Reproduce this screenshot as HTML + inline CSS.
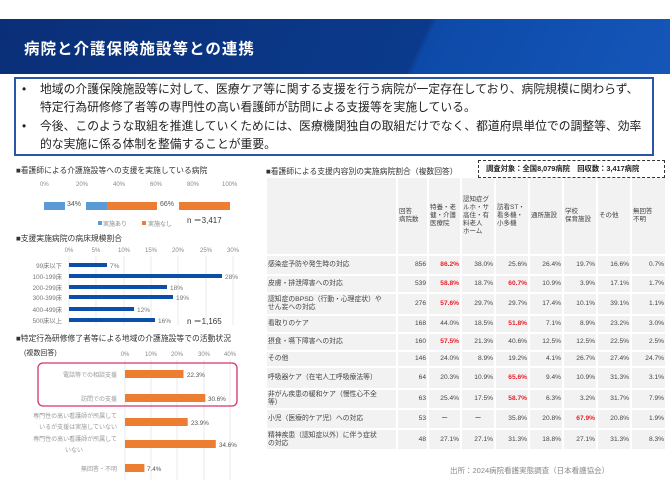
<!DOCTYPE html>
<html><head><meta charset="utf-8"><style>
*{margin:0;padding:0;box-sizing:border-box}
body{width:670px;height:502px;background:#fff;position:relative;overflow:hidden;font-family:"Liberation Sans","Noto Sans CJK JP",sans-serif;color:#333}
.a{position:absolute;white-space:nowrap}
.hdr{left:0;top:19px;width:670px;height:55px;background:linear-gradient(115deg,#0a2f78 0%,#0b3a8c 62%,#0d4aa8 63%,#1556b8 100%)}
.box{left:14px;top:77px;width:640px;height:79px;border:2px solid #2a56a8}
.bl{font-size:11.8px;color:#222;line-height:18px}
.t{font-size:7.5px;color:#333}
.g{font-size:6px;color:#888}
table{position:absolute;left:265px;top:176px;border-collapse:separate;border-spacing:2px;font-size:6.6px;color:#444;table-layout:fixed}
td{background:#f2f2f2;padding:0 1px;text-align:right;line-height:8px;overflow:hidden}
td.l{text-align:left;font-size:6.8px}
tr.h td{text-align:left;vertical-align:middle;font-size:6.5px}
.r{color:#e8202a;font-weight:bold}
</style></head><body>
<div class="a hdr"></div>
<div class="a" style="left:24px;top:37px;font-size:15.5px;color:#fff;font-weight:bold;letter-spacing:1px">病院と介護保険施設等との連携</div>
<div class="a box"></div>
<div class="a bl" style="left:22px;top:80px">•</div>
<div class="a bl" style="left:40px;top:80px">地域の介護保険施設等に対して、医療ケア等に関する支援を行う病院が一定存在しており、病院規模に関わらず、</div>
<div class="a bl" style="left:40px;top:98px">特定行為研修修了者等の専門性の高い看護師が訪問による支援等を実施している。</div>
<div class="a bl" style="left:22px;top:117px">•</div>
<div class="a bl" style="left:40px;top:117px">今後、このような取組を推進していくためには、医療機関独自の取組だけでなく、都道府県単位での調整等、効率</div>
<div class="a bl" style="left:40px;top:135px">的な実施に係る体制を整備することが重要。</div>

<!-- chart1 -->
<div class="a t" style="left:16px;top:165px;font-size:7.8px">■看護師による介護施設等への支援を実施している病院</div>
<div class="a g" style="left:40px;top:182px">0%</div><div class="a g" style="left:76px;top:182px">20%</div><div class="a g" style="left:113px;top:182px">40%</div><div class="a g" style="left:150px;top:182px">60%</div><div class="a g" style="left:187px;top:182px">80%</div><div class="a g" style="left:222px;top:182px">100%</div>
<div class="a" style="left:44px;top:202px;width:63px;height:8px;background:#5b9bd5"></div>
<div class="a" style="left:107px;top:202px;width:123px;height:8px;background:#ed7d31"></div>
<div class="a" style="left:65px;top:199px;width:21px;height:13px;background:#fff"></div>
<div class="a" style="left:157px;top:199px;width:22px;height:13px;background:#fff"></div>
<div class="a" style="left:67px;top:201px;font-size:7px;color:#555">34%</div>
<div class="a" style="left:160px;top:201px;font-size:7px;color:#555">66%</div>
<div class="a" style="left:98px;top:221px;width:4px;height:4px;background:#5b9bd5"></div>
<div class="a g" style="left:103px;top:219px">実施あり</div>
<div class="a" style="left:142px;top:221px;width:4px;height:4px;background:#ed7d31"></div>
<div class="a g" style="left:148px;top:219px">実施なし</div>
<div class="a" style="left:187px;top:215px;font-size:8px;color:#333">n ＝3,417</div>

<!-- chart2 -->
<div class="a t" style="left:16px;top:233px;font-size:7.8px">■支援実施病院の病床規模割合</div>
<svg class="a" style="left:0;top:0" width="260" height="330">
<g stroke="#ddd" stroke-width="0.6">
<line x1="69" y1="256" x2="69" y2="325"/><line x1="96" y1="256" x2="96" y2="325"/><line x1="124" y1="256" x2="124" y2="325"/><line x1="151" y1="256" x2="151" y2="325"/><line x1="178" y1="256" x2="178" y2="325"/><line x1="206" y1="256" x2="206" y2="325"/><line x1="233" y1="256" x2="233" y2="325"/>
</g>
<g fill="#0b4fa8">
<rect x="69" y="263" width="38" height="4"/><rect x="69" y="274" width="153" height="4"/><rect x="69" y="285" width="98" height="4"/><rect x="69" y="295" width="104" height="4"/><rect x="69" y="307" width="65" height="4"/><rect x="69" y="318" width="86" height="4"/>
</g>
<g font-size="6" fill="#888" text-anchor="middle" font-family="Liberation Sans">
<text x="69" y="252">0%</text><text x="96" y="252">5%</text><text x="124" y="252">10%</text><text x="151" y="252">15%</text><text x="178" y="252">20%</text><text x="206" y="252">25%</text><text x="233" y="252">30%</text>
</g>
<g font-size="6.5" fill="#777" font-family="Liberation Sans,Noto Sans CJK JP,sans-serif">
<text x="110" y="268">7%</text><text x="225" y="279">28%</text><text x="170" y="290">18%</text><text x="176" y="300">19%</text><text x="137" y="312">12%</text><text x="158" y="323">16%</text>
</g>
<g font-size="6.3" fill="#777" text-anchor="end" font-family="Liberation Sans,Noto Sans CJK JP,sans-serif">
<text x="62" y="268">99床以下</text><text x="62" y="279">100-199床</text><text x="62" y="290">200-299床</text><text x="62" y="300">300-399床</text><text x="62" y="312">400-499床</text><text x="62" y="323">500床以上</text>
</g>
</svg>
<div class="a" style="left:187px;top:316px;font-size:8px;color:#333">n ＝1,165</div>

<!-- chart3 -->
<div class="a t" style="left:16px;top:333px;font-size:7.8px">■特定行為研修修了者等による地域の介護施設等での活動状況</div>
<div class="a t" style="left:24px;top:348px;font-size:7px">(複数回答)</div>
<svg class="a" style="left:0;top:0" width="260" height="502">
<g stroke="#ddd" stroke-width="0.6">
<line x1="125" y1="360" x2="125" y2="480"/><line x1="151" y1="360" x2="151" y2="480"/><line x1="177" y1="360" x2="177" y2="480"/><line x1="204" y1="360" x2="204" y2="480"/><line x1="230" y1="360" x2="230" y2="480"/>
</g>
<g font-size="6" fill="#888" text-anchor="middle" font-family="Liberation Sans">
<text x="125" y="356">0%</text><text x="151" y="356">10%</text><text x="177" y="356">20%</text><text x="204" y="356">30%</text><text x="230" y="356">40%</text>
</g>
<g fill="#ed7d31">
<rect x="125" y="370" width="58.5" height="8"/><rect x="125" y="394" width="80.3" height="8"/><rect x="125" y="418" width="62.7" height="8"/><rect x="125" y="440" width="90.8" height="8"/><rect x="125" y="464" width="19.4" height="8"/>
</g>
<rect x="38" y="363" width="199" height="43" rx="5" fill="none" stroke="#d6336c" stroke-width="1.3"/>
<g font-size="6.3" fill="#555" font-family="Liberation Sans">
<text x="187" y="377">22.3%</text><text x="208" y="401">30.6%</text><text x="191" y="425">23.9%</text><text x="219" y="447">34.6%</text><text x="147" y="471">7.4%</text>
</g>
<g font-size="6" fill="#999" text-anchor="end" font-family="Liberation Sans,Noto Sans CJK JP,sans-serif">
<text x="117" y="377">電話等での相談支援</text><text x="117" y="401">訪問での支援</text>
<text x="117" y="418">専門性の高い看護師が所属して</text><text x="117" y="429">いるが支援は実施していない</text>
<text x="117" y="441">専門性の高い看護師が所属して</text><text x="83" y="452">いない</text>
<text x="117" y="471">無回答・不明</text>
</g>
</svg>

<!-- table -->
<div class="a t" style="left:266px;top:166px;font-size:7.8px">■看護師による支援内容別の実施病院割合（複数回答）</div>
<div class="a" style="left:478px;top:160px;width:187px;height:18px;border:1.3px dashed #333;font-size:7.3px;font-weight:bold;color:#222;padding:3px 0 0 7px">調査対象：全国8,079病院　回収数：3,417病院</div>
<table>
<colgroup><col style="width:129px"><col style="width:29px"><col style="width:31px"><col style="width:32px"><col style="width:32px"><col style="width:32px"><col style="width:32px"><col style="width:32px"><col style="width:33px"></colgroup>
<tr class="h" style="height:76px"><td></td><td>回答<br>病院数</td><td>特養・老<br>健・介護<br>医療院</td><td>認知症グ<br>ルホ・サ<br>高住・有<br>料老人<br>ホーム</td><td>訪看ST・<br>看多機・<br>小多機</td><td>通所施設</td><td>学校<br>保育施設</td><td>その他</td><td>無回答<br>不明</td></tr>
<tr style="height:18px"><td class="l">感染症予防や発生時の対応</td><td>856</td><td class="r">86.2%</td><td>38.0%</td><td>25.6%</td><td>26.4%</td><td>19.7%</td><td>16.6%</td><td>0.7%</td></tr>
<tr style="height:16px"><td class="l">皮膚・排泄障害への対応</td><td>539</td><td class="r">58.8%</td><td>18.7%</td><td class="r">60.7%</td><td>10.9%</td><td>3.9%</td><td>17.1%</td><td>1.7%</td></tr>
<tr style="height:20px"><td class="l">認知症のBPSD（行動・心理症状）や<br>せん妄への対応</td><td>276</td><td class="r">57.6%</td><td>29.7%</td><td>29.7%</td><td>17.4%</td><td>10.1%</td><td>39.1%</td><td>1.1%</td></tr>
<tr style="height:16px"><td class="l">看取りのケア</td><td>168</td><td>44.0%</td><td>18.5%</td><td class="r">51.8%</td><td>7.1%</td><td>8.9%</td><td>23.2%</td><td>3.0%</td></tr>
<tr style="height:16px"><td class="l">摂食・嚥下障害への対応</td><td>160</td><td class="r">57.5%</td><td>21.3%</td><td>40.6%</td><td>12.5%</td><td>12.5%</td><td>22.5%</td><td>2.5%</td></tr>
<tr style="height:14px"><td class="l">その他</td><td>146</td><td>24.0%</td><td>8.9%</td><td>19.2%</td><td>4.1%</td><td>26.7%</td><td>27.4%</td><td>24.7%</td></tr>
<tr style="height:20px"><td class="l">呼吸器ケア（在宅人工呼吸療法等）</td><td>64</td><td>20.3%</td><td>10.9%</td><td class="r">65.6%</td><td>9.4%</td><td>10.9%</td><td>31.3%</td><td>3.1%</td></tr>
<tr style="height:18px"><td class="l">非がん疾患の緩和ケア（慢性心不全<br>等）</td><td>63</td><td>25.4%</td><td>17.5%</td><td class="r">58.7%</td><td>6.3%</td><td>3.2%</td><td>31.7%</td><td>7.9%</td></tr>
<tr style="height:18px"><td class="l">小児（医療的ケア児）への対応</td><td>53</td><td style="text-align:center">ー</td><td style="text-align:center">ー</td><td>35.8%</td><td>20.8%</td><td class="r">67.9%</td><td>20.8%</td><td>1.9%</td></tr>
<tr style="height:19px"><td class="l">精神疾患（認知症以外）に伴う症状<br>の対応</td><td>48</td><td>27.1%</td><td>27.1%</td><td>31.3%</td><td>18.8%</td><td>27.1%</td><td>31.3%</td><td>8.3%</td></tr>
</table>
<div class="a" style="left:450px;top:465px;font-size:7.5px;color:#888">出所：2024病院看護実態調査（日本看護協会）</div>
</body></html>
